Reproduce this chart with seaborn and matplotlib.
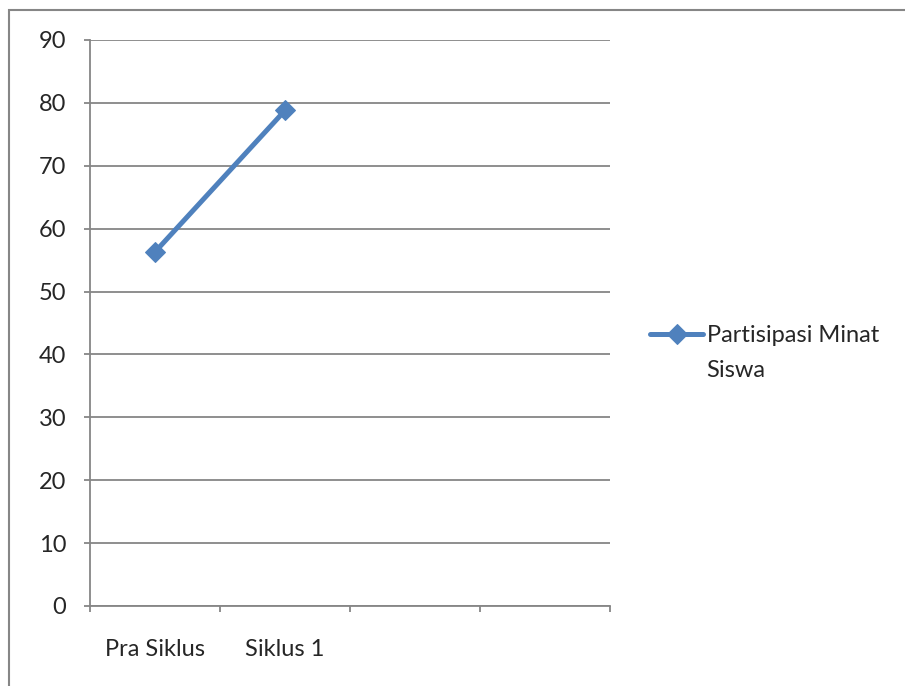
import matplotlib
matplotlib.use("Agg")
import matplotlib.pyplot as plt
import matplotlib.patches as patches
import seaborn as sns
import pandas as pd

categories = ["Pra Siklus", "Siklus 1"]
values = [56.3, 78.8]
series_name = "Partisipasi Minat"
series_name_line2 = "Siswa"
y_ticks = [0, 10, 20, 30, 40, 50, 60, 70, 80, 90]

sns.set_style("white")
plt.rcParams['font.family'] = ['Lato', 'DejaVu Sans']

df = pd.DataFrame({"kategori": categories, "nilai": values})

fig = plt.figure(figsize=(9.05, 6.86), dpi=100)
ax = fig.add_axes([90 / 905, 1 - 606 / 686, 520 / 905, 566 / 686])

line_color = "#4F81BD"
grid_color = "#868686"
fsize = 17

sns.lineplot(data=df, x="kategori", y="nilai", ax=ax, color=line_color,
             linewidth=3.6, marker="D", markersize=10, markeredgecolor=line_color,
             label=series_name, sort=False)

ax.set_xlim(-0.5, 3.5)
ax.set_ylim(0, 90)
ax.set_yticks(y_ticks)
ax.set_xticks([-0.5, 0.5, 1.5, 2.5, 3.5])
ax.set_xticklabels([])
ax.set_xticks([0, 1], minor=True)
ax.set_xticklabels(categories, minor=True)
ax.tick_params(axis="x", which="minor", bottom=True, length=0, pad=24, labelsize=fsize)
ax.tick_params(axis="x", which="major", bottom=True, length=4, width=1.3,
               color=grid_color, direction="out")
ax.tick_params(axis="y", left=True, length=4, width=1.3, color=grid_color,
               direction="out", pad=13, labelsize=fsize)
ax.set_xlabel("")
ax.set_ylabel("")
ax.yaxis.grid(True, color=grid_color, linewidth=1.3)
ax.set_axisbelow(True)

for side in ["top", "right"]:
    ax.spines[side].set_visible(False)
for side in ["left", "bottom"]:
    ax.spines[side].set_color(grid_color)
    ax.spines[side].set_linewidth(1.3)
ax.spines["bottom"].set_zorder(3)

leg = ax.legend(loc="upper left", bbox_to_anchor=(650 / 905, 1 - 325 / 686),
                bbox_transform=fig.transFigure, frameon=False, fontsize=fsize,
                handlelength=2.25, handletextpad=0.15, borderaxespad=0, borderpad=0)

# second line of the legend label sits under the first, like Excel wraps it
fig.canvas.draw()
bb = leg.get_texts()[0].get_window_extent()
fig.text(bb.x0 / 905, (bb.y0 - 35) / 686, series_name_line2,
         ha="left", va="bottom", fontsize=fsize)

border = patches.Rectangle((9 / 905, -0.1), 1.1, 1.1 - 10 / 686,
                           transform=fig.transFigure, fill=False,
                           edgecolor=grid_color, linewidth=1.5)
fig.patches.append(border)

fig.savefig("out.png", dpi=100)
